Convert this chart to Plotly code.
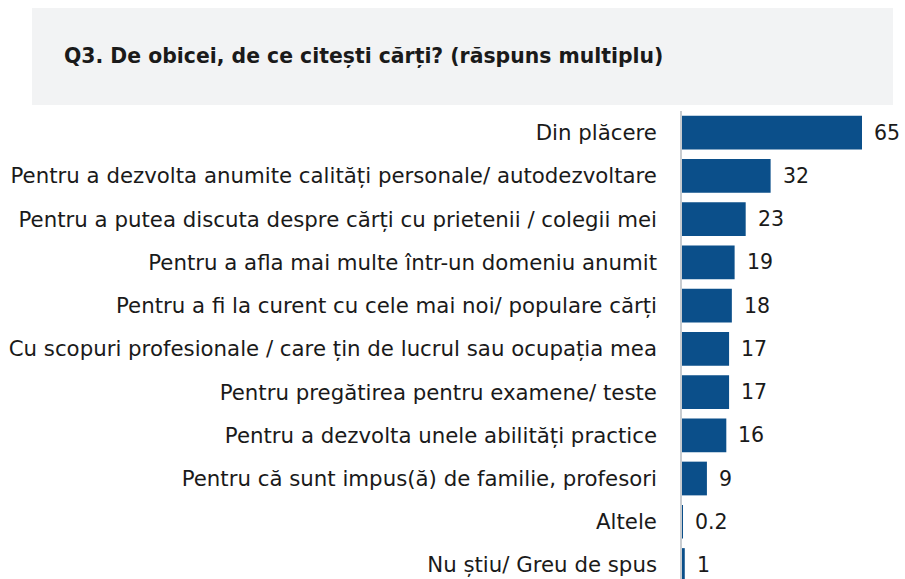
import plotly.graph_objects as go

categories = [
    "Din plăcere",
    "Pentru a dezvolta anumite calități personale/ autodezvoltare",
    "Pentru a putea discuta despre cărți cu prietenii / colegii mei",
    "Pentru a afla mai multe într-un domeniu anumit",
    "Pentru a fi la curent cu cele mai noi/ populare cărți",
    "Cu scopuri profesionale / care țin de lucrul sau ocupația mea",
    "Pentru pregătirea pentru examene/ teste",
    "Pentru a dezvolta unele abilități practice",
    "Pentru că sunt impus(ă) de familie, profesori",
    "Altele",
    "Nu știu/ Greu de spus",
]
values = [65, 32, 23, 19, 18, 17, 17, 16, 9, 0.2, 1]
value_labels = ["65", "32", "23", "19", "18", "17", "17", "16", "9", "0.2", "1"]
title_text = "Q3. De obicei, de ce citești cărți? (răspuns multiplu)"

W, H = 905, 579
L, R, T, B = 682, 10, 111, 0
pw, ph = W - L - R, H - T - B
FONT = "DejaVu Sans, Verdana, sans-serif"

def px_x(x):
    return (x - L) / pw

def px_y(y):
    return (H - B - y) / ph

fig = go.Figure(go.Bar(
    y=categories,
    x=values,
    orientation="h",
    marker=dict(color="#0b4f8a", line=dict(width=0)),
    width=0.78,
    hoverinfo="x+y",
))

annotations = [dict(text="<b>" + title_text + "</b>", xref="paper", yref="paper",
                    x=px_x(62), y=px_y(57), xanchor="left", yanchor="middle",
                    showarrow=False,
                    font=dict(size=20.4, color="#1a1a1a", family=FONT))]
for cat, v, lab in zip(categories, values, value_labels):
    annotations.append(dict(text=lab, x=v, y=cat, xref="x", yref="y",
                            xanchor="left", yanchor="middle", xshift=10,
                            showarrow=False,
                            font=dict(size=20.5, color="#1a1a1a", family=FONT)))

fig.update_layout(
    width=W, height=H,
    margin=dict(l=L, r=R, t=T, b=B, pad=0),
    paper_bgcolor="white",
    plot_bgcolor="white",
    showlegend=False,
    font=dict(family=FONT, color="#1a1a1a", size=21),
    xaxis=dict(range=[0, pw / (180 / 65)], showgrid=False, zeroline=False,
               showticklabels=False, showline=False, fixedrange=True),
    yaxis=dict(categoryorder="array", categoryarray=categories,
               range=[10 + (H - 565) / 43.2, -0.5],
               showgrid=False, zeroline=False, showline=True,
               linecolor="#c8ccd0", linewidth=1.5,
               ticks="", ticklabelstandoff=19,
               tickfont=dict(size=21.3, color="#1a1a1a", family=FONT)),
    shapes=[dict(type="rect", xref="paper", yref="paper",
                 x0=px_x(32), x1=px_x(893), y0=px_y(105), y1=px_y(8),
                 fillcolor="#f2f3f4", line=dict(width=0), layer="below")],
    annotations=annotations,
)

fig.write_html("out.html")
